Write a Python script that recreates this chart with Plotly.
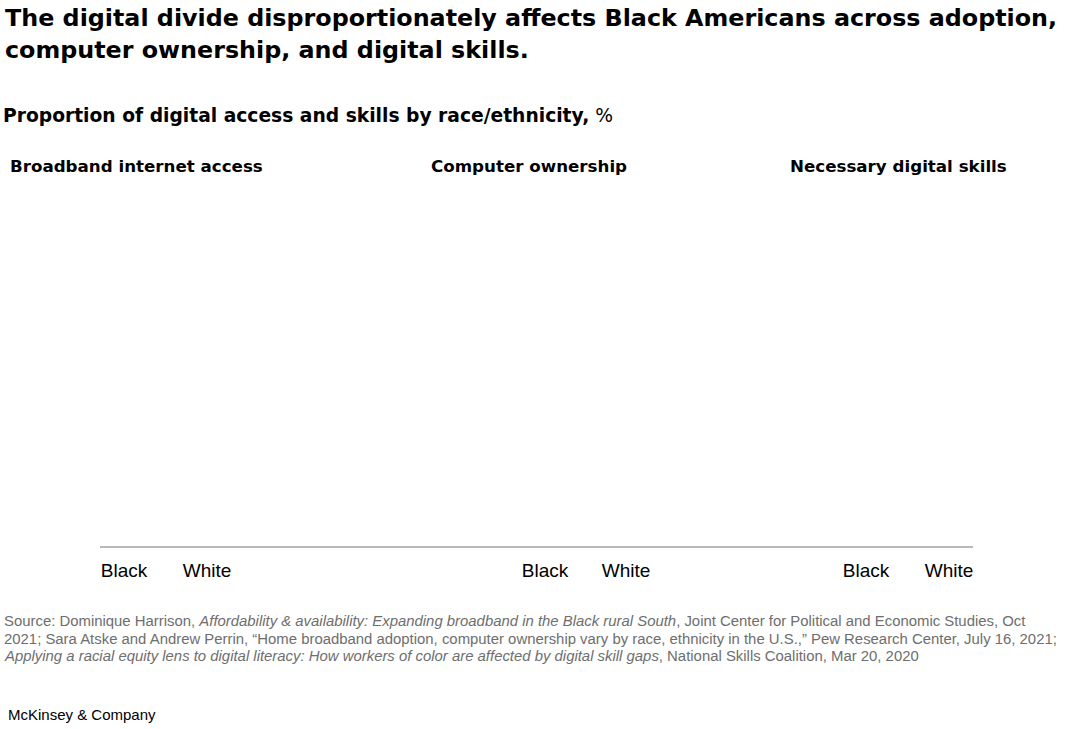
import plotly.graph_objects as go

# ---- data ----
panels = ["Broadband internet access", "Computer ownership", "Necessary digital skills"]
groups = ["Black", "White"]
# The reference renders no bars (values not shown), so the series are empty.
broadband = [None, None]
computer = [None, None]
skills = [None, None]
series = [broadband, computer, skills]

title_lines = [
    "The digital divide disproportionately affects Black Americans across adoption,",
    "computer ownership, and digital skills.",
]
subtitle = "<b>Proportion of digital access and skills by race/ethnicity,</b> %"
source_lines = [
    "Source: Dominique Harrison, <i>Affordability & availability: Expanding broadband in the Black rural South</i>, Joint Center for Political and Economic Studies, Oct",
    "2021; Sara Atske and Andrew Perrin, “Home broadband adoption, computer ownership vary by race, ethnicity in the U.S.,” Pew Research Center, July 16, 2021;",
    "<i>Applying a racial equity lens to digital literacy: How workers of color are affected by digital skill gaps</i>, National Skills Coalition, Mar 20, 2020",
]
footer = "McKinsey & Company"

W, H = 1080, 729
FONT = "Liberation Sans"
BOLD = "DejaVu Sans"

def px(x):
    return x / W

def py(y):
    return 1 - y / H

fig = go.Figure()

domains = [(82.5, 248.5), (504.5, 666.5), (824.5, 990.5)]
for i, (vals, dom) in enumerate(zip(series, domains)):
    ax = "" if i == 0 else str(i + 1)
    fig.add_trace(go.Bar(x=groups, y=vals, xaxis="x" + ax, yaxis="y" + ax,
                         marker_color="#051c2c", showlegend=False))
    fig.layout["xaxis" + ax] = dict(
        domain=[px(dom[0]), px(dom[1])], anchor="y" + ax, type="category",
        range=[-0.5, 1.5], showgrid=False, zeroline=False, showline=False,
        ticks="outside", ticklen=6, tickcolor="rgba(0,0,0,0)",
        tickfont=dict(family=FONT, size=19, color="#000"), fixedrange=True)
    fig.layout["yaxis" + ax] = dict(
        domain=[py(547), py(190)], anchor="x" + ax, range=[0, 100],
        visible=False, fixedrange=True)

# baseline
fig.add_shape(type="line", xref="paper", yref="paper",
              x0=px(100), x1=px(973), y0=py(547), y1=py(547),
              line=dict(color="#a0a0a0", width=1.3))

ann = []
for i, t in enumerate(title_lines):
    ann.append(dict(text="<b>" + t + "</b>", x=px(3), y=py(18 + 32 * i),
                    font=dict(family=BOLD, size=23.8, color="#000")))
ann.append(dict(text=subtitle, x=px(1), y=py(116),
                font=dict(family=BOLD, size=18.7, color="#000")))
for p, xx in zip(panels, [8, 429, 788]):
    ann.append(dict(text="<b>" + p + "</b>", x=px(xx), y=py(166),
                    font=dict(family=BOLD, size=16.7, color="#000")))
for i, s in enumerate(source_lines):
    ann.append(dict(text=s, x=px(2), y=py(621 + 17.5 * i),
                    font=dict(family=FONT, size=14.9, color="#6e6e6e")))
ann.append(dict(text=footer, x=px(6), y=py(714),
                font=dict(family=FONT, size=15, color="#000")))
for a in ann:
    a.update(xref="paper", yref="paper", xanchor="left", yanchor="middle",
             showarrow=False, align="left")

fig.update_layout(
    width=W, height=H, margin=dict(l=0, r=0, t=0, b=0),
    paper_bgcolor="white", plot_bgcolor="white",
    annotations=ann, bargap=0.35,
)

fig.write_html("out.html", config={"displayModeBar": False},
               post_script="document.body.style.margin='0';")
